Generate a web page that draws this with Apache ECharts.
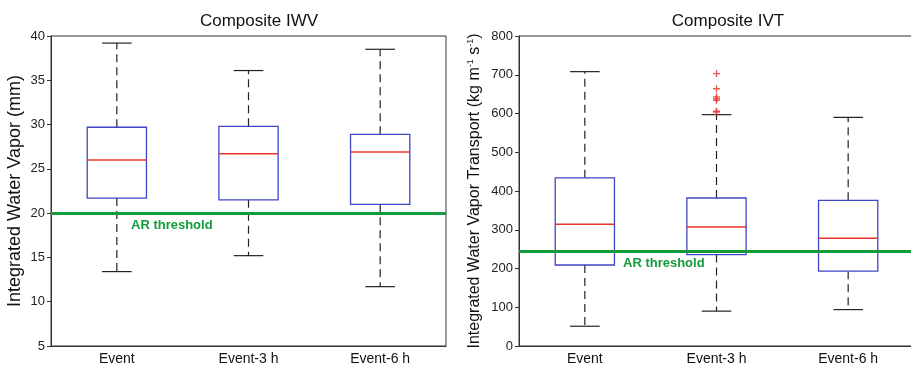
<!DOCTYPE html>
<html><head><meta charset="utf-8">
<script src="https://cdn.jsdelivr.net/npm/echarts@6/dist/echarts.min.js"></script>
<style>html,body{margin:0;padding:0;background:#fff}#c{width:911px;height:369px}</style>
</head><body><div id="c"></div>
<script>
const categories = ['Event', 'Event-3 h', 'Event-6 h'];
// IWV (mm)
const iwvLow  = [13.4, 15.2, 11.7];
const iwvQ1   = [21.7, 21.5, 21.0];
const iwvMed  = [26.0, 26.7, 26.9];
const iwvQ3   = [29.7, 29.8, 28.9];
const iwvHigh = [39.2, 36.1, 38.5];
const iwvThreshold = 20;
// IVT (kg m-1 s-1)
const ivtLow  = [51, 90, 94];
const ivtQ1   = [209, 236, 193];
const ivtMed  = [314, 307, 278];
const ivtQ3   = [434, 382, 376];
const ivtHigh = [708, 597, 590];
const ivtOutlierCat = [1, 1, 1, 1, 1, 1, 1];
const ivtOutliers = [703, 664, 643, 638, 634, 606, 604];
const ivtThreshold = 245;
const iwvTicks = {min: 5, max: 40, interval: 5};
const ivtTicks = {min: 0, max: 800, interval: 100};

const FONT = 'Liberation Sans, Arial, Helvetica, sans-serif';
const BLUE = '#3f45c4', RED = '#e8322b', GREEN = '#139a3c', DARK = '#333';

function boxData(lo, q1, md, q3, hi) {
  return categories.map((c, i) => [i, lo[i], q1[i], md[i], q3[i], hi[i]]);
}
function renderBox(params, api) {
  const x = api.value(0);
  const pLo = api.coord([x, api.value(1)]);
  const pQ1 = api.coord([x, api.value(2)]);
  const pMd = api.coord([x, api.value(3)]);
  const pQ3 = api.coord([x, api.value(4)]);
  const pHi = api.coord([x, api.value(5)]);
  const band = api.size([1, 0])[0];
  const bw = band * 0.45, cw = bw * 0.5;
  const cx = pMd[0];
  const dash = {stroke: '#222', lineWidth: 1.2, lineDash: [8, 5]};
  const solid = {stroke: '#222', lineWidth: 1.2};
  return {type: 'group', children: [
    {type: 'line', shape: {x1: cx, y1: pQ3[1], x2: cx, y2: pHi[1]}, style: dash},
    {type: 'line', shape: {x1: cx, y1: pQ1[1], x2: cx, y2: pLo[1]}, style: dash},
    {type: 'line', shape: {x1: cx - cw / 2, y1: pHi[1], x2: cx + cw / 2, y2: pHi[1]}, style: solid},
    {type: 'line', shape: {x1: cx - cw / 2, y1: pLo[1], x2: cx + cw / 2, y2: pLo[1]}, style: solid},
    {type: 'rect', shape: {x: cx - bw / 2, y: pQ3[1], width: bw, height: pQ1[1] - pQ3[1]},
      style: {fill: '#fff', stroke: BLUE, lineWidth: 1.3}},
    {type: 'line', shape: {x1: cx - bw / 2, y1: pMd[1], x2: cx + bw / 2, y2: pMd[1]}, style: {stroke: RED, lineWidth: 1.5}}
  ]};
}
function xAxis(gi) {
  return {type: 'category', gridIndex: gi, data: categories, boundaryGap: true,
    axisLine: {lineStyle: {color: DARK, width: 1}},
    axisTick: {alignWithLabel: true, length: 4, lineStyle: {color: DARK}},
    axisLabel: {color: '#111', fontFamily: FONT, fontSize: 14, margin: 6},
    splitLine: {show: false}};
}
function yAxis(gi, t, name, gap, size, rich) {
  const o = {type: 'value', gridIndex: gi, min: t.min, max: t.max, interval: t.interval,
    name: name, nameLocation: 'middle', nameGap: gap,
    nameTextStyle: {color: '#111', fontFamily: FONT, fontSize: size},
    axisLine: {show: true, lineStyle: {color: DARK, width: 1}},
    axisTick: {show: true, length: 4, lineStyle: {color: DARK}},
    axisLabel: {color: '#222', fontFamily: FONT, fontSize: 13, margin: 6},
    splitLine: {show: false}};
  if (rich) o.nameTextStyle.rich = rich;
  return o;
}
function threshold(gi, val, dx) {
  return {type: 'scatter', xAxisIndex: gi, yAxisIndex: gi, data: [], silent: true,
    markLine: {silent: true, symbol: ['none', 'none'], animation: false,
      lineStyle: {color: GREEN, width: 3, type: 'solid'},
      label: {show: true, formatter: 'AR threshold', position: 'insideStartBottom',
        distance: [dx, 6], color: GREEN, fontFamily: FONT, fontWeight: 'bold', fontSize: 13},
      emphasis: {disabled: true},
      data: [{yAxis: val}]}, z: 5};
}
const chart = echarts.init(document.getElementById('c'), null, {renderer: 'canvas'});
chart.setOption({
  animation: false,
  backgroundColor: '#fff',
  title: [
    {text: 'Composite IWV', left: 254, top: 8, textAlign: 'center',
      textStyle: {fontFamily: FONT, fontSize: 17, fontWeight: 'normal', color: '#111'}},
    {text: 'Composite IVT', left: 723, top: 8, textAlign: 'center',
      textStyle: {fontFamily: FONT, fontSize: 17, fontWeight: 'normal', color: '#111'}}
  ],
  grid: [
    {left: 51, top: 36, width: 395, height: 310, show: true, borderColor: DARK, borderWidth: 1,
      backgroundColor: 'transparent', outerBoundsMode: 'none', containLabel: false},
    {left: 519, top: 36, width: 395, height: 310, show: true, borderColor: DARK, borderWidth: 1,
      backgroundColor: 'transparent', outerBoundsMode: 'none', containLabel: false}
  ],
  xAxis: [xAxis(0), xAxis(1)],
  yAxis: [
    yAxis(0, iwvTicks, 'Integrated Water Vapor (mm)', 27, 18),
    yAxis(1, ivtTicks, '{a|Integrated Water Vapor Transport (kg m}{s|-1}{a| s}{s|-1}{a|)}', 36, 16,
      {a: {fontFamily: FONT, fontSize: 16, color: '#111'},
       s: {fontFamily: FONT, fontSize: 9, color: '#111', verticalAlign: 'top', padding: [0, 0, 8, 0]}})
  ],
  series: [
    {type: 'custom', xAxisIndex: 0, yAxisIndex: 0, renderItem: renderBox,
      encode: {x: 0, y: [1, 2, 3, 4, 5]}, data: boxData(iwvLow, iwvQ1, iwvMed, iwvQ3, iwvHigh), z: 3},
    {type: 'custom', xAxisIndex: 1, yAxisIndex: 1, renderItem: renderBox,
      encode: {x: 0, y: [1, 2, 3, 4, 5]}, data: boxData(ivtLow, ivtQ1, ivtMed, ivtQ3, ivtHigh), z: 3},
    {type: 'scatter', xAxisIndex: 1, yAxisIndex: 1, symbol: 'path://M4,0H6V4H10V6H6V10H4V6H0V4H4Z',
      symbolSize: 7, itemStyle: {color: RED}, data: ivtOutliers.map((v, i) => [ivtOutlierCat[i], v]), z: 6},
    threshold(0, iwvThreshold, 80),
    threshold(1, ivtThreshold, 104)
  ]
});
</script></body></html>
